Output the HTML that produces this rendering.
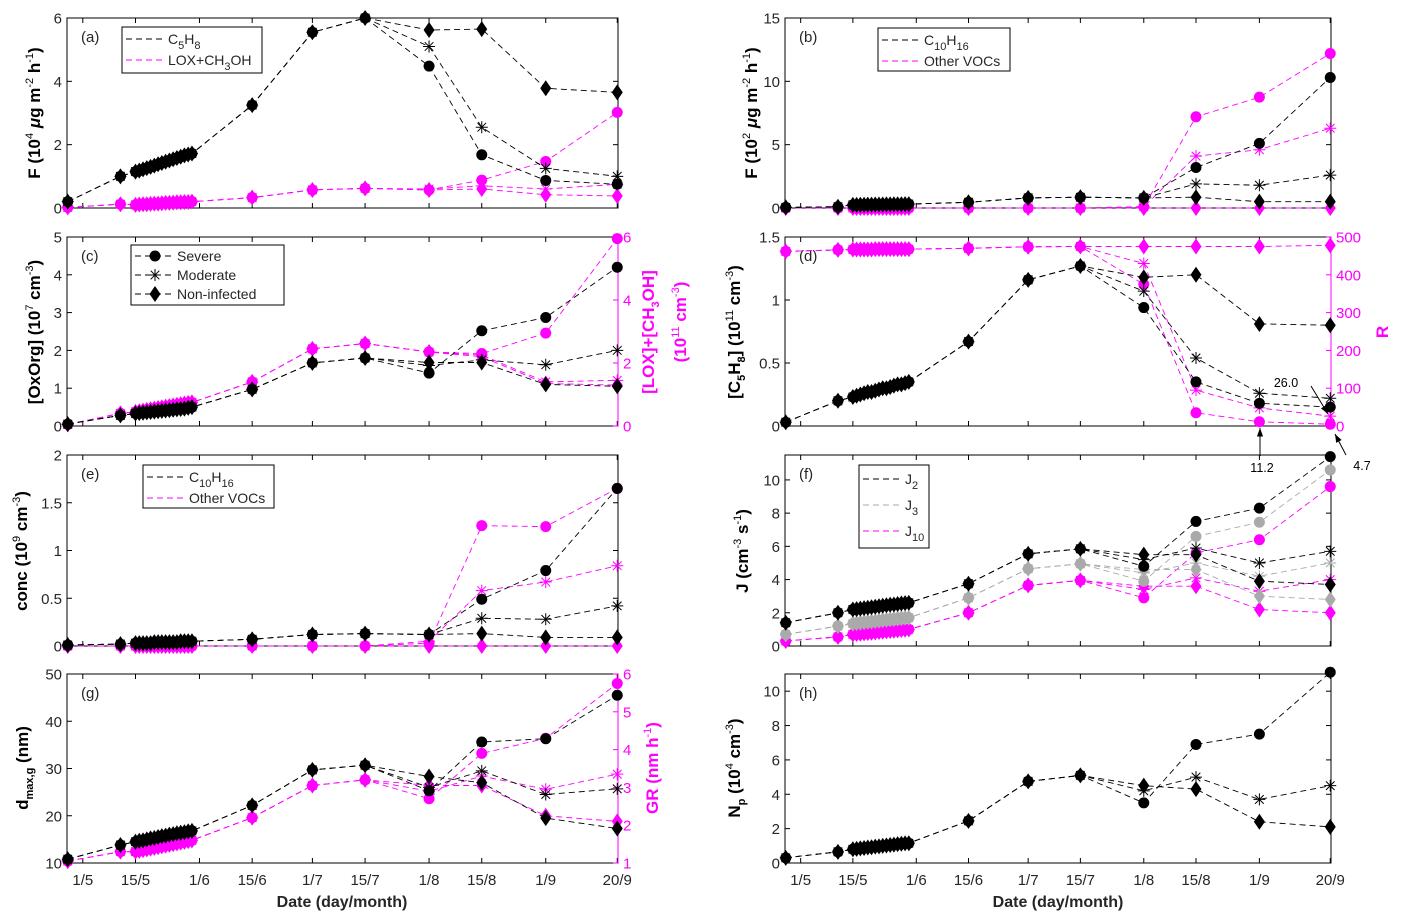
<!DOCTYPE html>
<html><head><meta charset="utf-8">
<style>
html,body{margin:0;padding:0;background:#fff;}
svg{display:block;font-family:"Liberation Sans",sans-serif;}
</style></head>
<body>
<svg id="fig" width="1401" height="923" viewBox="0 0 1401 923"></svg>
<script>
// ---- data ----
const dates = [117,131,135,136,137,138,139,140,141,142,143,144,145,146,147,148,149,150,166,182,196,213,227,244,263];
const xTickDates = [121,135,152,166,182,196,213,227,244,263];
const xTickLabels = ["1/5","15/5","1/6","15/6","1/7","15/7","1/8","15/8","1/9","20/9"];
// common (up to 15/7) values, then branches [severe, moderate, non-infected] for 1/8,15/8,1/9,20/9
const aBlackCommon = [0.2,1.0,1.15,1.18,1.22,1.26,1.30,1.34,1.38,1.42,1.46,1.50,1.54,1.58,1.62,1.66,1.69,1.72,3.25,5.55,6.0];
const aBlackSev = [4.48,1.68,0.87,0.75];
const aBlackMod = [5.1,2.55,1.25,1.0];
const aBlackNon = [5.62,5.65,3.78,3.65];
const aMagCommon = [0.02,0.12,0.10,0.11,0.12,0.12,0.13,0.14,0.14,0.15,0.16,0.16,0.17,0.18,0.18,0.19,0.19,0.20,0.33,0.57,0.62];
const aMagSev = [0.57,0.88,1.47,3.02];
const aMagMod = [0.6,0.7,0.6,0.75];
const aMagNon = [0.57,0.6,0.42,0.38];

const bBlackCommon = [0.05,0.1,0.25,0.25,0.26,0.26,0.27,0.27,0.28,0.28,0.28,0.29,0.29,0.3,0.3,0.3,0.31,0.31,0.45,0.8,0.85];
const bBlackSev = [0.8,3.2,5.1,10.3];
const bBlackMod = [0.8,1.9,1.8,2.6];
const bBlackNon = [0.8,0.85,0.5,0.5];
const bMagCommon = [0,0,0,0,0,0,0,0,0,0,0,0,0,0,0,0,0,0,0,0,0];
const bMagSev = [0.1,7.2,8.75,12.2];
const bMagMod = [0.1,4.1,4.6,6.3];
const bMagNon = [0,0,0,0];

const cBlackCommon = [0.05,0.28,0.33,0.34,0.35,0.36,0.37,0.38,0.39,0.4,0.41,0.42,0.43,0.44,0.45,0.46,0.48,0.5,0.97,1.67,1.8];
const cBlackSev = [1.4,2.52,2.87,4.2];
const cBlackMod = [1.6,1.75,1.62,2.0];
const cBlackNon = [1.68,1.68,1.1,1.05];
const cMagCommon = [0.05,0.4,0.45,0.47,0.49,0.51,0.53,0.55,0.57,0.59,0.61,0.63,0.65,0.67,0.69,0.71,0.73,0.75,1.4,2.45,2.62];
const cMagSev = [2.35,2.3,2.95,5.95];
const cMagMod = [2.35,2.25,1.4,1.45];
const cMagNon = [2.35,2.2,1.35,1.3];

const dBlackCommon = [0.03,0.2,0.23,0.24,0.25,0.26,0.27,0.27,0.28,0.29,0.3,0.3,0.31,0.32,0.33,0.33,0.34,0.35,0.67,1.16,1.27];
const dBlackSev = [0.94,0.35,0.18,0.15];
const dBlackMod = [1.07,0.54,0.26,0.22];
const dBlackNon = [1.18,1.2,0.81,0.8];
const dRCommon = [462,466,467,467,467,467,467,467,468,468,468,468,468,468,468,468,468,468,470,474,475];
const dRSev = [375,35,11.2,4.7];
const dRMod = [430,95,48,26.0];
const dRNon = [475,475,475,478];

const eBlackCommon = [0.01,0.02,0.03,0.03,0.03,0.03,0.03,0.04,0.04,0.04,0.04,0.04,0.04,0.04,0.05,0.05,0.05,0.05,0.07,0.12,0.13];
const eBlackSev = [0.12,0.49,0.79,1.65];
const eBlackMod = [0.12,0.29,0.28,0.42];
const eBlackNon = [0.12,0.13,0.09,0.09];
const eMagCommon = [0,0,0,0,0,0,0,0,0,0,0,0,0,0,0,0,0,0,0,0,0];
const eMagSev = [0.03,1.26,1.25,1.65];
const eMagMod = [0.05,0.58,0.67,0.84];
const eMagNon = [0,0,0,0];

const fJ2Common = [1.4,2.0,2.2,2.22,2.25,2.28,2.3,2.33,2.36,2.39,2.42,2.45,2.48,2.5,2.53,2.56,2.58,2.6,3.75,5.55,5.85];
const fJ2Sev = [4.8,7.5,8.3,11.4];
const fJ2Mod = [5.2,5.9,5.0,5.7];
const fJ2Non = [5.5,5.5,3.9,3.7];
const fJ3Common = [0.7,1.2,1.35,1.37,1.4,1.42,1.45,1.47,1.5,1.52,1.55,1.57,1.6,1.62,1.65,1.67,1.69,1.7,2.9,4.65,4.95];
const fJ3Sev = [3.9,6.6,7.45,10.6];
const fJ3Mod = [4.4,5.0,4.2,5.0];
const fJ3Non = [4.6,4.6,3.0,2.8];
const fJ10Common = [0.3,0.55,0.7,0.72,0.74,0.76,0.78,0.8,0.82,0.84,0.86,0.88,0.9,0.92,0.94,0.96,0.98,1.0,2.0,3.65,3.95];
const fJ10Sev = [2.9,5.6,6.4,9.6];
const fJ10Mod = [3.4,4.1,3.3,4.0];
const fJ10Non = [3.6,3.6,2.2,2.0];

const gDCommon = [10.8,13.8,14.5,14.7,14.8,15.0,15.2,15.3,15.5,15.7,15.8,16.0,16.1,16.3,16.4,16.5,16.7,16.8,22.2,29.7,30.7];
const gDSev = [25.3,35.6,36.3,45.5];
const gDMod = [26.0,29.5,24.5,25.7];
const gDNon = [28.3,27.0,19.5,17.3];
const gGRCommon = [1.05,1.3,1.3,1.32,1.34,1.36,1.38,1.4,1.42,1.44,1.46,1.48,1.5,1.52,1.54,1.56,1.58,1.6,2.2,3.05,3.2];
const gGRSev = [2.7,3.9,4.3,5.75];
const gGRMod = [2.9,3.3,2.95,3.35];
const gGRNon = [3.05,3.05,2.25,2.1];

const hNCommon = [0.3,0.65,0.8,0.82,0.85,0.87,0.9,0.92,0.95,0.97,1.0,1.02,1.05,1.07,1.1,1.12,1.14,1.15,2.45,4.75,5.1];
const hNSev = [3.5,6.9,7.5,11.1];
const hNMod = [4.2,5.0,3.7,4.5];
const hNNon = [4.5,4.3,2.4,2.1];

// ---- drawing ----
const NS = "http://www.w3.org/2000/svg";
const svg = document.getElementById('fig');
const MAG = "#ff00ff", GRAY = "#aaaaaa", TXT = "#262626";
function mk(tag, attrs, parent){ const e=document.createElementNS(NS,tag); for(const k in attrs) e.setAttribute(k,attrs[k]); (parent||svg).appendChild(e); return e; }

const D0 = 116.8, D1 = 263.2;
function makeX(p){ return d => p.x0 + (d-D0)/(D1-D0)*(p.x1-p.x0); }
function makeY(p, lo, hi){ return v => p.y1 - (v-lo)/(hi-lo)*(p.y1-p.y0); }

function marker(g, type, cx, cy, color){
  let e;
  if(type==='circle'){ e=mk('circle',{cx:cx,cy:cy,r:5.5,fill:color},g); }
  else if(type==='diamond'){ e=mk('polygon',{points:`${cx},${cy-8} ${cx+5.5},${cy} ${cx},${cy+8} ${cx-5.5},${cy}`,fill:color},g); }
  else { e=mk('path',{d:`M${cx-6},${cy}H${cx+6}M${cx},${cy-6}V${cy+6}M${cx-4.3},${cy-4.3}L${cx+4.3},${cy+4.3}M${cx-4.3},${cy+4.3}L${cx+4.3},${cy-4.3}`,stroke:color,'stroke-width':1,fill:'none'},g); }
  
  
}
function series(p, X, Y, common, branch, type, color, name){
  const vals = common.concat(branch);
  const g = mk('g',{});
  
  
  const pts = vals.map((v,i)=>X(dates[i]).toFixed(1)+','+Y(v).toFixed(1)).join(' ');
  const pl = mk('polyline',{points:pts,fill:'none',stroke:color,'stroke-width':0.9,'stroke-dasharray':'6,4'},g);
  
  
  vals.forEach((v,i)=>marker(g,type,X(dates[i]),Y(v),color));
}
function group3(p,X,Y,common,sev,mod,non,color,name){
  series(p,X,Y,common,sev,'circle',color,name+'-severe');
  series(p,X,Y,common,mod,'star',color,name+'-moderate');
  series(p,X,Y,common,non,'diamond',color,name+'-non-infected');
}
function frame(p, lo, hi, ticks, labels, xlabels, name){
  const g = mk('g',{});
  
  
  const X = makeX(p), Y = makeY(p, lo, hi);
  mk('rect',{x:p.x0,y:p.y0,width:p.x1-p.x0,height:p.y1-p.y0,fill:'none',stroke:'#000','stroke-width':1},g);
  ticks.forEach((t,i)=>{
    const y=Y(t);
    mk('line',{x1:p.x0,y1:y,x2:p.x0+5,y2:y,stroke:'#000'},g);
    if(!p.right) mk('line',{x1:p.x1,y1:y,x2:p.x1-5,y2:y,stroke:'#000'},g);
    const tx=mk('text',{x:p.x0-5,y:y+5.5,'text-anchor':'end','font-size':15,fill:TXT},g);
    tx.textContent=labels[i];
    
    
  });
  xTickDates.forEach((d,i)=>{
    const x=X(d);
    mk('line',{x1:x,y1:p.y1,x2:x,y2:p.y1-5,stroke:'#000'},g);
    mk('line',{x1:x,y1:p.y0,x2:x,y2:p.y0+5,stroke:'#000'},g);
    if(xlabels){
      const tx=mk('text',{x:x,y:p.y1+22,'text-anchor':'middle','font-size':15,fill:TXT},g);
      tx.textContent=xTickLabels[i];
      
      
    }
  });
  const pl=mk('text',{x:p.x0+14,y:p.y0+24,'font-size':15,fill:TXT},g);
  pl.textContent=p.tag;
  
  
  return {X,Y};
}
function rightAxis(p, lo, hi, ticks, labels, color){
  const Y = makeY(p, lo, hi);
  const g = mk('g',{});
  
  
  mk('line',{x1:p.x1,y1:p.y0,x2:p.x1,y2:p.y1,stroke:color,'stroke-width':1},g);
  ticks.forEach((t,i)=>{
    const y=Y(t);
    mk('line',{x1:p.x1,y1:y,x2:p.x1-5,y2:y,stroke:color},g);
    const tx=mk('text',{x:p.x1+5,y:y+5.5,'font-size':15,fill:color},g);
    tx.textContent=labels[i];
    
    
  });
  return Y;
}
function ylabel(x, y, html, color, name){
  const t=mk('text',{x:0,y:0,transform:`translate(${x},${y}) rotate(-90)`,'text-anchor':'middle','font-size':17,'font-weight':'bold',fill:color||'#000'});
  t.innerHTML=html;
  
  
}
const sup = s => `<tspan dy="-7" font-size="11" font-weight="normal">${s}</tspan><tspan dy="7">\u200b</tspan>`;
const sub = s => `<tspan dy="5" font-size="11">${s}</tspan><tspan dy="-5">\u200b</tspan>`;

const L0=67, L1=618, R0=785, R1=1331;
const rows=[[18,208],[237,426],[455,646],[674,863]];
const pa={x0:L0,x1:L1,y0:rows[0][0],y1:rows[0][1],tag:'(a)'};
const pb={x0:R0,x1:R1,y0:rows[0][0],y1:rows[0][1],tag:'(b)'};
const pc={x0:L0,x1:L1,y0:rows[1][0],y1:rows[1][1],tag:'(c)',right:true};
const pd={x0:R0,x1:R1,y0:rows[1][0],y1:rows[1][1],tag:'(d)',right:true};
const pe={x0:L0,x1:L1,y0:rows[2][0],y1:rows[2][1],tag:'(e)'};
const pf={x0:R0,x1:R1,y0:rows[2][0],y1:rows[2][1],tag:'(f)'};
const pg={x0:L0,x1:L1,y0:rows[3][0],y1:rows[3][1],tag:'(g)',right:true};
const ph={x0:R0,x1:R1,y0:rows[3][0],y1:rows[3][1],tag:'(h)'};

// (a)
let A=frame(pa,0,6,[0,2,4,6],["0","2","4","6"],false,'panel-a');
group3(pa,A.X,A.Y,aMagCommon,aMagSev,aMagMod,aMagNon,MAG,'a-lox-ch3oh');
group3(pa,A.X,A.Y,aBlackCommon,aBlackSev,aBlackMod,aBlackNon,'#000','a-c5h8');
ylabel(40,113,'F (10'+sup('4')+' <tspan font-style="italic">μ</tspan>g m'+sup('-2')+' h'+sup('-1')+')','#000','y-axis-title-a');
// (b)
let B=frame(pb,0,15,[0,5,10,15],["0","5","10","15"],false,'panel-b');
group3(pb,B.X,B.Y,bMagCommon,bMagSev,bMagMod,bMagNon,MAG,'b-other-vocs');
group3(pb,B.X,B.Y,bBlackCommon,bBlackSev,bBlackMod,bBlackNon,'#000','b-c10h16');
ylabel(757,113,'F (10'+sup('2')+' <tspan font-style="italic">μ</tspan>g m'+sup('-2')+' h'+sup('-1')+')','#000','y-axis-title-b');
// (c)
let C=frame(pc,0,5,[0,1,2,3,4,5],["0","1","2","3","4","5"],false,'panel-c');
let CY2=rightAxis(pc,0,6,[0,2,4,6],["0","2","4","6"],MAG);
group3(pc,C.X,CY2,cMagCommon,cMagSev,cMagMod,cMagNon,MAG,'c-lox');
group3(pc,C.X,C.Y,cBlackCommon,cBlackSev,cBlackMod,cBlackNon,'#000','c-oxorg');
ylabel(40,332,'[OxOrg] (10'+sup('7')+' cm'+sup('-3')+')','#000','y-axis-title-c');
ylabel(654,332,'[LOX]+[CH'+sub('3')+'OH]',MAG,'right-axis-title-c');
ylabel(686,322,'(10'+sup('11')+' cm'+sup('-3')+')',MAG,'right-axis-title-c2');
// (d)
let Dd=frame(pd,0,1.5,[0,0.5,1,1.5],["0","0.5","1","1.5"],false,'panel-d');
let DY2=rightAxis(pd,0,500,[0,100,200,300,400,500],["0","100","200","300","400","500"],MAG);
group3(pd,Dd.X,DY2,dRCommon,dRSev,dRMod,dRNon,MAG,'d-ratio');
group3(pd,Dd.X,Dd.Y,dBlackCommon,dBlackSev,dBlackMod,dBlackNon,'#000','d-c5h8');
ylabel(740,332,'[C'+sub('5')+'H'+sub('8')+'] (10'+sup('11')+' cm'+sup('-3')+')','#000','y-axis-title-d');
ylabel(1388,332,'R',MAG,'right-axis-title-d');
// annotations (d)
function arrow(x1,y1,x2,y2,name){
  const g=mk('g',{});
  
  
  mk('line',{x1:x1,y1:y1,x2:x2,y2:y2,stroke:'#000','stroke-width':1},g);
  const a=Math.atan2(y2-y1,x2-x1), L=9, w=0.35;
  mk('polygon',{points:`${x2},${y2} ${x2-L*Math.cos(a-w)},${y2-L*Math.sin(a-w)} ${x2-L*Math.cos(a+w)},${y2-L*Math.sin(a+w)}`,fill:'#000'},g);
}
arrow(1311,386,1328,414,'annotation-arrow-26');
arrow(1260,456,1260,428,'annotation-arrow-11');
arrow(1346,455,1335,434,'annotation-arrow-4');
[[1286,387,'26.0'],[1262,472,'11.2'],[1362,470,'4.7']].forEach(a=>{
  const t=mk('text',{x:a[0],y:a[1],'text-anchor':'middle','font-size':12.5,fill:'#000'});
  t.textContent=a[2];
  
  
});
// (e)
let E=frame(pe,0,2,[0,0.5,1,1.5,2],["0","0.5","1","1.5","2"],false,'panel-e');
group3(pe,E.X,E.Y,eMagCommon,eMagSev,eMagMod,eMagNon,MAG,'e-other-vocs');
group3(pe,E.X,E.Y,eBlackCommon,eBlackSev,eBlackMod,eBlackNon,'#000','e-c10h16');
ylabel(27,551,'conc (10'+sup('9')+' cm'+sup('-3')+')','#000','y-axis-title-e');
// (f)
let F=frame(pf,0,11.5,[0,2,4,6,8,10],["0","2","4","6","8","10"],false,'panel-f');
group3(pf,F.X,F.Y,fJ10Common,fJ10Sev,fJ10Mod,fJ10Non,MAG,'f-j10');
group3(pf,F.X,F.Y,fJ3Common,fJ3Sev,fJ3Mod,fJ3Non,GRAY,'f-j3');
group3(pf,F.X,F.Y,fJ2Common,fJ2Sev,fJ2Mod,fJ2Non,'#000','f-j2');
ylabel(748,551,'J (cm'+sup('-3')+' s'+sup('-1')+')','#000','y-axis-title-f');
// (g)
let G=frame(pg,10,50,[10,20,30,40,50],["10","20","30","40","50"],true,'panel-g');
let GY2=rightAxis(pg,1,6,[1,2,3,4,5,6],["1","2","3","4","5","6"],MAG);
group3(pg,G.X,GY2,gGRCommon,gGRSev,gGRMod,gGRNon,MAG,'g-growth-rate');
group3(pg,G.X,G.Y,gDCommon,gDSev,gDMod,gDNon,'#000','g-dmax');
ylabel(28,768,'d'+sub('max,g')+' (nm)','#000','y-axis-title-g');
ylabel(658,768,'GR (nm h'+sup('-1')+')',MAG,'right-axis-title-g');
// (h)
let H=frame(ph,0,11,[0,2,4,6,8,10],["0","2","4","6","8","10"],true,'panel-h');
group3(ph,H.X,H.Y,hNCommon,hNSev,hNMod,hNNon,'#000','h-np');
ylabel(740,768,'N'+sub('p')+' (10'+sup('4')+' cm'+sup('-3')+')','#000','y-axis-title-h');
// x labels
[[342,'x-axis-title-left'],[1058,'x-axis-title-right']].forEach(a=>{
  const t=mk('text',{x:a[0],y:907,'text-anchor':'middle','font-size':16,'font-weight':'bold',fill:TXT});
  t.textContent='Date (day/month)';
  
  
});

// legends
function legend(x,y,w,h,entries,name){
  const g=mk('g',{});
  
  
  mk('rect',{x:x,y:y,width:w,height:h,fill:'#fff',stroke:'#000','stroke-width':1},g);
  entries.forEach(e=>{
    const ey=y+e.dy;
    const ln=mk('line',{x1:x+4,y1:ey,x2:x+44,y2:ey,stroke:e.color,'stroke-width':1,'stroke-dasharray':'6,4'},g);
    
    
    if(e.marker) marker(g,e.marker,x+24,ey,e.color);
    const t=mk('text',{x:x+46,y:ey+5,'font-size':14,fill:TXT},g);
    t.innerHTML=e.label;
    
    
  });
}
legend(122,27,140,46,[{dy:12,color:'#000',label:'C'+sub('5')+'H'+sub('8')},{dy:33,color:MAG,label:'LOX+CH'+sub('3')+'OH'}],'legend-a');
legend(878,28,132,43,[{dy:12,color:'#000',label:'C'+sub('10')+'H'+sub('16')},{dy:33,color:MAG,label:'Other VOCs'}],'legend-b');
legend(131,245,153,60,[{dy:11,color:'#000',marker:'circle',label:'Severe'},{dy:30,color:'#000',marker:'star',label:'Moderate'},{dy:49,color:'#000',marker:'diamond',label:'Non-infected'}],'legend-c');
legend(143,465,131,43,[{dy:12,color:'#000',label:'C'+sub('10')+'H'+sub('16')},{dy:33,color:MAG,label:'Other VOCs'}],'legend-e');
legend(859,465,70,83,[{dy:14,color:'#000',label:'J'+sub('2')},{dy:40,color:GRAY,label:'J'+sub('3')},{dy:66,color:MAG,label:'J'+sub('10')}],'legend-f');
</script>
</body></html>
